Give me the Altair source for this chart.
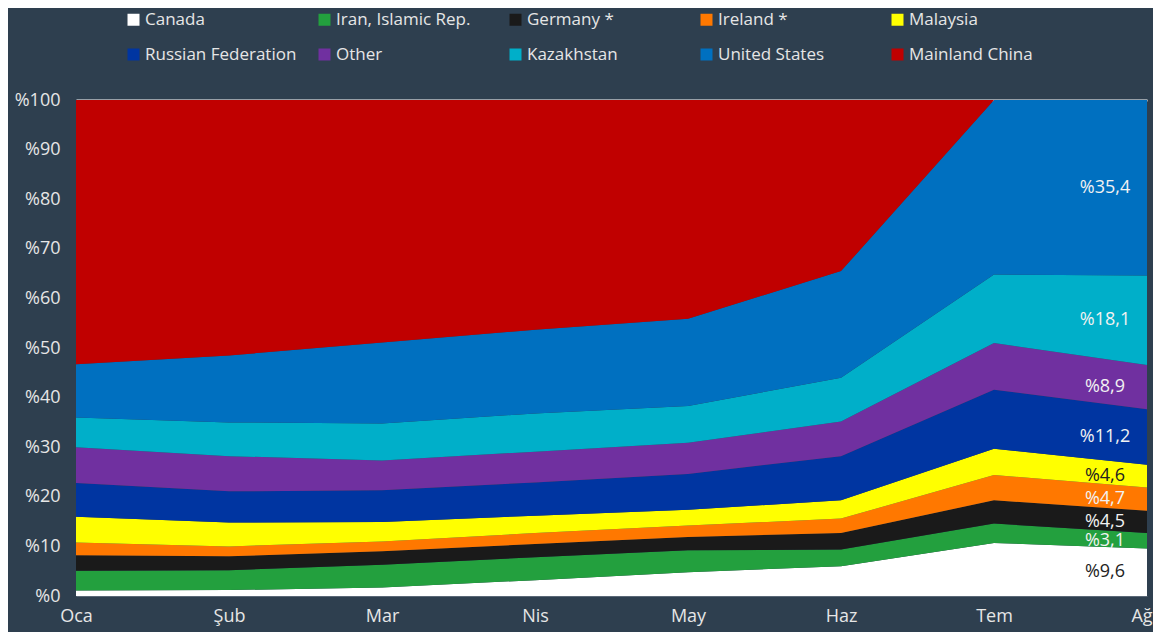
import altair as alt
import pandas as pd

months = ["Oca", "Şub", "Mar", "Nis", "May", "Haz", "Tem", "Ağu"]
countries = ["Canada", "Iran, Islamic Rep.", "Germany *", "Ireland *", "Malaysia",
             "Russian Federation", "Other", "Kazakhstan", "United States", "Mainland China"]
colors = ["#FFFFFF", "#23A03E", "#1A1A1A", "#FF7800", "#FFFF00",
          "#0035A1", "#7030A0", "#00AFC9", "#0070C0", "#C00000"]

canada = [1.1, 1.2, 1.7, 3.2, 4.8, 6.0, 10.7, 9.6]
iran = [4.0, 4.0, 4.6, 4.6, 4.4, 3.4, 3.9, 3.1]
germany = [3.1, 2.8, 2.7, 2.7, 2.7, 3.3, 4.7, 4.5]
ireland = [2.6, 2.0, 2.0, 2.2, 2.3, 2.9, 5.1, 4.7]
malaysia = [5.2, 4.8, 3.9, 3.5, 3.2, 3.7, 5.3, 4.6]
russia = [6.8, 6.3, 6.4, 6.7, 7.2, 8.9, 11.9, 11.2]
other = [7.2, 7.1, 6.0, 6.2, 6.3, 7.0, 9.4, 8.9]
kazakhstan = [6.0, 6.8, 7.5, 7.7, 7.4, 8.8, 13.8, 18.1]
united_states = [10.7, 13.5, 16.3, 16.9, 17.6, 21.5, 35.2, 35.4]
china = [53.3, 51.5, 48.9, 46.3, 44.1, 34.5, 0.0, 0.0]

series = [canada, iran, germany, ireland, malaysia, russia, other,
          kazakhstan, united_states, china]

rows = []
for idx, (name, vals) in enumerate(zip(countries, series)):
    for m, v in zip(months, vals):
        rows.append({"month": m, "country": name, "idx": idx, "value": v})
df = pd.DataFrame(rows)

FONT = "Open Sans"
TXT = "#E6E6E6"
BG = "#2E3F4F"

x_enc = alt.X("month:O", sort=months,
              scale=alt.Scale(type="point", padding=0),
              axis=alt.Axis(title=None, labelAngle=0, labelFontSize=18, labelColor=TXT,
                            labelFont=FONT, ticks=False, labelPadding=11,
                            domainColor="#5A6877", domainWidth=1, grid=False))

area = alt.Chart(df).mark_area(interpolate="linear").encode(
    x=x_enc,
    y=alt.Y("value:Q", stack="normalize",
            scale=alt.Scale(domain=[0, 1]),
            axis=alt.Axis(title=None, values=[i / 10 for i in range(11)],
                          labelExpr="'%' + round(datum.value * 100)",
                          labelFontSize=18, labelColor=TXT, labelFont=FONT,
                          ticks=False, domain=False, labelPadding=16,
                          grid=True, gridColor="#FFFFFF", gridWidth=2,
                          gridOpacity={"condition": {"test": "datum.value >= 0.999", "value": 1},
                                       "value": 0})),
    color=alt.Color("country:N", sort=countries,
                    scale=alt.Scale(domain=countries, range=colors),
                    legend=alt.Legend(title=None, orient="none", legendX=49, legendY=-89,
                                      direction="horizontal", columns=5, gridAlign="all",
                                      symbolType="square", symbolSize=144,
                                      symbolStrokeWidth=0, symbolOpacity=1,
                                      labelFontSize=17, labelColor=TXT, labelFont=FONT,
                                      labelOffset=3, columnPadding=19, rowPadding=17,
                                      labelLimit=300)),
    order=alt.Order("idx:Q", sort="ascending"),
)

labels = alt.Chart(df).transform_stack(
    stack="value", groupby=["month"], as_=["y0", "y1"],
    sort=[alt.SortField("idx", order="ascending")], offset="normalize"
).transform_filter(
    (alt.datum.month == "Ağu") & (alt.datum.value > 0)
).transform_calculate(
    mid="(datum.y0 + datum.y1) / 2",
    label="'%' + replace(format(datum.value, '.1f'), '.', ',')"
).mark_text(fontSize=18, font=FONT, align="center", baseline="middle", dx=-42).encode(
    x=alt.X("month:O", sort=months, scale=alt.Scale(type="point", padding=0)),
    y=alt.Y("mid:Q", scale=alt.Scale(domain=[0, 1])),
    text="label:N",
    color=alt.condition("datum.country == 'Canada' || datum.country == 'Malaysia'",
                        alt.value("#222222"), alt.value("#F2F2F2")),
)

chart = alt.layer(area, labels).properties(
    width=1071, height=496,
    background=BG,
    autosize=alt.AutoSizeParams(type="none"),
    padding={"left": 68, "top": 92, "right": 6, "bottom": 36},
).configure_view(stroke=None)

chart.save("out.html", embed_options={"renderer": "svg", "actions": False})
